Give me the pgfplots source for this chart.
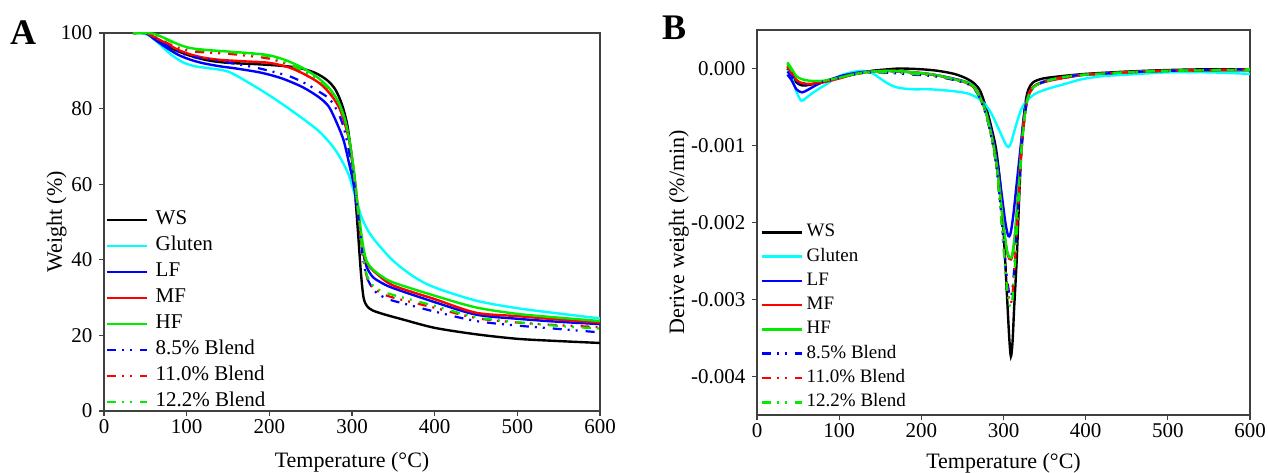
\documentclass[border=0pt]{standalone}
\usepackage{fontspec}
\setmainfont{Liberation Serif}
\usepackage{pgfplots}
\pgfplotsset{compat=1.18}
\definecolor{cGl}{RGB}{0,255,255}
\definecolor{cLF}{RGB}{0,0,255}
\definecolor{cMF}{RGB}{255,0,0}
\definecolor{cHF}{RGB}{0,235,0}
\pgfplotsset{
  common/.style={
    scale only axis,
    axis line style={line width=1.2pt, black!75},
    tick style={line width=1.2pt, black!75},
    tick align=outside, tick pos=left,
    major tick length=5pt,
    /pgf/number format/assume math mode=true,
    tick label style={font=\fontsize{21}{24}\selectfont},
    label style={font=\fontsize{22}{26}\selectfont},
    y tick label style={xshift=-3pt},
    legend cell align=left,
    every axis plot/.append style={line width=2.4pt, smooth, tension=0.5, no marks},
  },
  blend/.style={line width=2.2pt, dash pattern=on 9pt off 6pt on 2pt off 6pt on 2pt off 8pt},
}
\begin{document}
\begin{tikzpicture}
\path[use as bounding box] (0pt,0pt) rectangle (1268pt,472pt);
\node[font=\bfseries\fontsize{36}{38}\selectfont] at (23pt,439pt) {A};
\node[font=\bfseries\fontsize{36}{38}\selectfont] at (674pt,444pt) {B};
% ---------------- Panel A ----------------
\begin{axis}[common,
  at={(104pt,61pt)}, anchor=south west,
  width=496pt, height=378pt,
  xmin=0, xmax=600, ymin=0, ymax=100,
  xtick={0,100,...,600}, ytick={0,20,...,100},
  xlabel={Temperature (°C)}, ylabel={Weight (\%)},
  x label style={at={(axis description cs:0.5,0)}, anchor=base, yshift=-56pt},
  y label style={at={(axis description cs:-0.0847,0.5)}, anchor=base},
  legend image code/.code={\draw[line width=2.6pt,#1] (0pt,0pt) -- (40pt,0pt); \path (47pt,0pt);},
  legend style={draw=none, fill=none, inner sep=0pt, font=\fontsize{21}{24}\selectfont,
    nodes={inner sep=1pt, text height=15pt, text depth=5pt}, row sep=4pt,
    at={(axis description cs:0,0)}, anchor=south west, xshift=1pt, yshift=-2pt},
]
\addplot[black] table {
35 100
45 100
55 99.5
70 97.3
85 95.6
100 94.3
115 93.3
130 92.6
150 92.1
180 91.8
210 91.4
235 90.8
255 89.5
270 87.5
280 85
288 81
294 76
298 70
302 62
305 54
308 45
311 36
314 30
318 27.8
325 26.6
340 25.5
360 24.3
400 22
450 20.3
500 19.1
550 18.5
600 18.0
};
\addlegendentry{WS}
\addplot[cGl] table {
35 100
45 100
55 99.3
65 97.5
80 94.5
95 92.3
110 91.2
130 90.6
150 89.8
170 87.5
200 83.5
230 79
260 74
280 69
295 63
305 56
312 51
320 47.5
330 44.5
350 39.7
375 35.5
400 32.7
450 29.2
500 27.2
550 25.8
600 24.5
};
\addlegendentry{Gluten}
\addplot[cLF] table {
35 100
50 100
60 98.5
75 96.2
90 94.2
105 92.9
120 92
140 91.2
160 90.6
190 89.5
215 88
240 85.7
260 83
272 80.5
282 76
290 71.5
297 65
302 60
306 54
310 47.5
314 41.5
318 38
325 35.5
335 34
350 32.5
400 28.8
450 25.5
500 24.4
550 23.6
600 23.0
};
\addlegendentry{LF}
\addplot[cMF] table {
35 100
50 100
60 99
75 97.3
90 95.5
105 94.3
120 93.5
140 92.9
170 92.5
200 92.1
225 90.8
245 88.8
262 86.5
275 83.5
285 80
292 75.5
298 70
303 62
307 54
311 46
315 41
320 38.5
330 36.3
350 33.2
400 29.6
450 26.0
500 25.1
550 24.2
600 23.4
};
\addlegendentry{MF}
\addplot[cHF] table {
35 100
50 100
60 99.8
75 98.5
90 97
105 96
125 95.5
150 95.1
180 94.6
200 94.1
220 92.8
240 90.8
258 88.3
272 85.5
283 82
291 77.5
297 71.5
302 64
306 56
310 49
314 43
318 39.5
325 37.5
335 35.8
350 34
400 30.5
450 27.4
500 25.7
550 24.7
600 23.8
};
\addlegendentry{HF}
\addplot[cLF, blend] table {
35 100
50 100
60 99
75 96.8
90 95
105 93.8
120 93.2
150 92.2
180 91
200 90
225 88.5
245 86.5
260 84.5
273 82.5
283 79
290 75
296 69
301 63
305 56
309 49
313 41
317 36
322 33.5
330 31.2
345 29.5
370 28
400 26.3
450 23.8
500 22.6
550 21.7
600 20.8
};
\addlegendentry{8.5\% Blend}
\addplot[cMF, blend] table {
35 100
50 100
60 99.2
75 97.5
90 96
105 95.2
120 94.9
150 94.5
180 93.8
200 93.2
225 91.5
245 89.3
260 87.3
273 84.8
283 81.5
291 77
297 71
302 63
306 55
310 47
314 40
318 35.5
324 33
335 31.2
350 30
400 27.3
450 24.6
500 23.4
550 22.7
600 22.2
};
\addlegendentry{11.0\% Blend}
\addplot[cHF, blend] table {
35 100
50 100
60 99.6
75 98.3
90 96.8
105 95.8
120 95.4
150 95
180 94.3
200 93.8
225 91.7
245 89.5
260 87.5
273 85
283 81.8
291 77.2
297 71.2
302 63.5
306 55.5
310 47.5
314 40.5
318 36
324 33.5
335 31.8
350 30.7
400 27.8
450 24.8
500 23.5
550 22.5
600 21.8
};
\addlegendentry{12.2\% Blend}
\end{axis}
% ---------------- Panel B ----------------
\begin{axis}[common,
  at={(757pt,57pt)}, anchor=south west,
  width=493pt, height=385pt,
  xmin=0, xmax=600, ymin=-0.0045, ymax=0.0005,
  xtick={0,100,...,600},
  ytick={-0.004,-0.003,-0.002,-0.001,0},
  yticklabels={-0.004,-0.003,-0.002,-0.001,0.000},
  scaled y ticks=false,
  xlabel={Temperature (°C)}, ylabel={Derive weight (\%/min)},
  x label style={at={(axis description cs:0.5,0)}, anchor=base, yshift=-53pt},
  y label style={at={(axis description cs:-0.148,0.475)}, anchor=base},
  legend image code/.code={\draw[line width=2.6pt,#1] (0pt,0pt) -- (40pt,0pt); \path (43pt,0pt);},
  legend style={draw=none, fill=none, inner sep=0pt, font=\fontsize{19}{22}\selectfont,
    nodes={inner sep=1pt, text height=14pt, text depth=5pt}, row sep=3.3pt,
    at={(axis description cs:0,0)}, anchor=south west, xshift=3pt, yshift=2pt},
]
\addplot[black] table {
37 0.00000
42 -0.00008
48 -0.00018
55 -0.00022
65 -0.00021
80 -0.00017
100 -0.00012
120 -0.00007
140 -0.00003
160 -0.00001
175 0.00000
200 -0.00001
220 -0.00003
240 -0.00007
255 -0.00013
265 -0.00020
272 -0.00030
280 -0.00055
286 -0.00080
291 -0.00105
296 -0.00150
300 -0.00210
304 -0.00290
307 -0.00350
309 -0.00374
311 -0.00355
313 -0.00310
316 -0.00250
319 -0.00170
322 -0.00098
326 -0.00050
330 -0.00028
336 -0.00018
348 -0.00013
370 -0.00010
400 -0.00007
450 -0.00004
500 -0.00002
550 -0.00001
600 -0.00001
};
\addlegendentry{WS}
\addplot[cGl] table {
37 -0.00002
42 -0.00010
48 -0.00030
54 -0.00042
60 -0.00038
70 -0.00030
85 -0.00020
100 -0.00010
115 -0.00005
128 -0.00003
140 -0.00006
150 -0.00013
160 -0.00020
172 -0.00025
190 -0.00027
210 -0.00027
235 -0.00029
255 -0.00032
268 -0.00038
278 -0.00047
286 -0.00060
293 -0.00076
299 -0.00090
303 -0.00099
306 -0.00102
309 -0.00097
313 -0.00082
318 -0.00064
323 -0.00050
330 -0.00040
340 -0.00032
355 -0.00026
375 -0.00020
395 -0.00014
420 -0.00010
450 -0.00008
500 -0.00005
550 -0.00005
600 -0.00007
};
\addlegendentry{Gluten}
\addplot[cLF] table {
37 -0.00008
42 -0.00015
48 -0.00027
55 -0.00031
63 -0.00027
75 -0.00020
90 -0.00014
105 -0.00009
125 -0.00005
150 -0.00003
175 -0.00004
200 -0.00006
225 -0.00010
250 -0.00016
262 -0.00022
272 -0.00038
280 -0.00060
287 -0.00090
293 -0.00125
298 -0.00165
302 -0.00198
305 -0.00215
307 -0.00218
309 -0.00212
312 -0.00190
316 -0.00150
320 -0.00110
324 -0.00070
328 -0.00042
333 -0.00028
340 -0.00021
355 -0.00015
380 -0.00011
400 -0.00008
450 -0.00005
500 -0.00003
600 -0.00002
};
\addlegendentry{LF}
\addplot[cMF] table {
37 0.00004
42 -0.00005
48 -0.00015
55 -0.00019
65 -0.00020
80 -0.00018
100 -0.00013
120 -0.00007
140 -0.00004
165 -0.00003
190 -0.00005
215 -0.00008
240 -0.00014
258 -0.00020
268 -0.00030
278 -0.00055
285 -0.00085
291 -0.00120
296 -0.00165
300 -0.00205
304 -0.00236
307 -0.00247
309 -0.00248
311 -0.00242
314 -0.00215
318 -0.00160
322 -0.00100
326 -0.00058
330 -0.00035
336 -0.00024
345 -0.00019
360 -0.00015
380 -0.00011
400 -0.00008
450 -0.00005
500 -0.00003
600 -0.00002
};
\addlegendentry{MF}
\addplot[cHF] table {
37 0.00008
42 0.00000
48 -0.00010
55 -0.00014
65 -0.00016
80 -0.00016
100 -0.00012
120 -0.00007
140 -0.00004
165 -0.00003
190 -0.00005
215 -0.00008
240 -0.00014
258 -0.00019
268 -0.00030
278 -0.00055
285 -0.00085
291 -0.00120
296 -0.00165
300 -0.00205
304 -0.00235
307 -0.00245
309 -0.00246
311 -0.00240
314 -0.00215
318 -0.00162
322 -0.00102
326 -0.00060
330 -0.00037
336 -0.00025
345 -0.00019
360 -0.00014
380 -0.00010
400 -0.00008
450 -0.00005
500 -0.00003
600 -0.00002
};
\addlegendentry{HF}
\addplot[cLF, blend] table {
37 -0.00004
42 -0.00010
48 -0.00018
55 -0.00022
65 -0.00021
80 -0.00017
100 -0.00012
120 -0.00007
140 -0.00005
165 -0.00006
190 -0.00008
215 -0.00010
240 -0.00015
258 -0.00021
268 -0.00032
278 -0.00058
285 -0.00088
291 -0.00125
296 -0.00175
300 -0.00225
304 -0.00270
307 -0.00292
309 -0.00296
311 -0.00285
314 -0.00245
318 -0.00175
322 -0.00105
326 -0.00060
330 -0.00037
336 -0.00025
345 -0.00019
360 -0.00014
380 -0.00010
400 -0.00008
450 -0.00005
500 -0.00003
600 -0.00001
};
\addlegendentry{8.5\% Blend}
\addplot[cMF, blend] table {
37 0.00002
42 -0.00006
48 -0.00015
55 -0.00019
65 -0.00019
80 -0.00017
100 -0.00012
120 -0.00007
140 -0.00005
165 -0.00005
190 -0.00007
215 -0.00009
240 -0.00014
258 -0.00020
268 -0.00031
278 -0.00057
285 -0.00087
291 -0.00125
296 -0.00178
300 -0.00230
304 -0.00278
307 -0.00300
309 -0.00305
311 -0.00293
314 -0.00250
318 -0.00178
322 -0.00106
326 -0.00061
330 -0.00037
336 -0.00025
345 -0.00019
360 -0.00014
380 -0.00010
400 -0.00008
450 -0.00005
500 -0.00003
600 -0.00001
};
\addlegendentry{11.0\% Blend}
\addplot[cHF, blend] table {
37 0.00006
42 -0.00002
48 -0.00011
55 -0.00015
65 -0.00016
80 -0.00016
100 -0.00012
120 -0.00007
140 -0.00005
165 -0.00005
190 -0.00007
215 -0.00009
240 -0.00014
258 -0.00020
268 -0.00031
278 -0.00057
285 -0.00087
291 -0.00125
296 -0.00180
300 -0.00232
304 -0.00282
307 -0.00305
309 -0.00310
311 -0.00297
314 -0.00253
318 -0.00180
322 -0.00107
326 -0.00061
330 -0.00037
336 -0.00025
345 -0.00019
360 -0.00014
380 -0.00010
400 -0.00008
450 -0.00005
500 -0.00003
600 -0.00001
};
\addlegendentry{12.2\% Blend}
\end{axis}
\end{tikzpicture}
\end{document}
